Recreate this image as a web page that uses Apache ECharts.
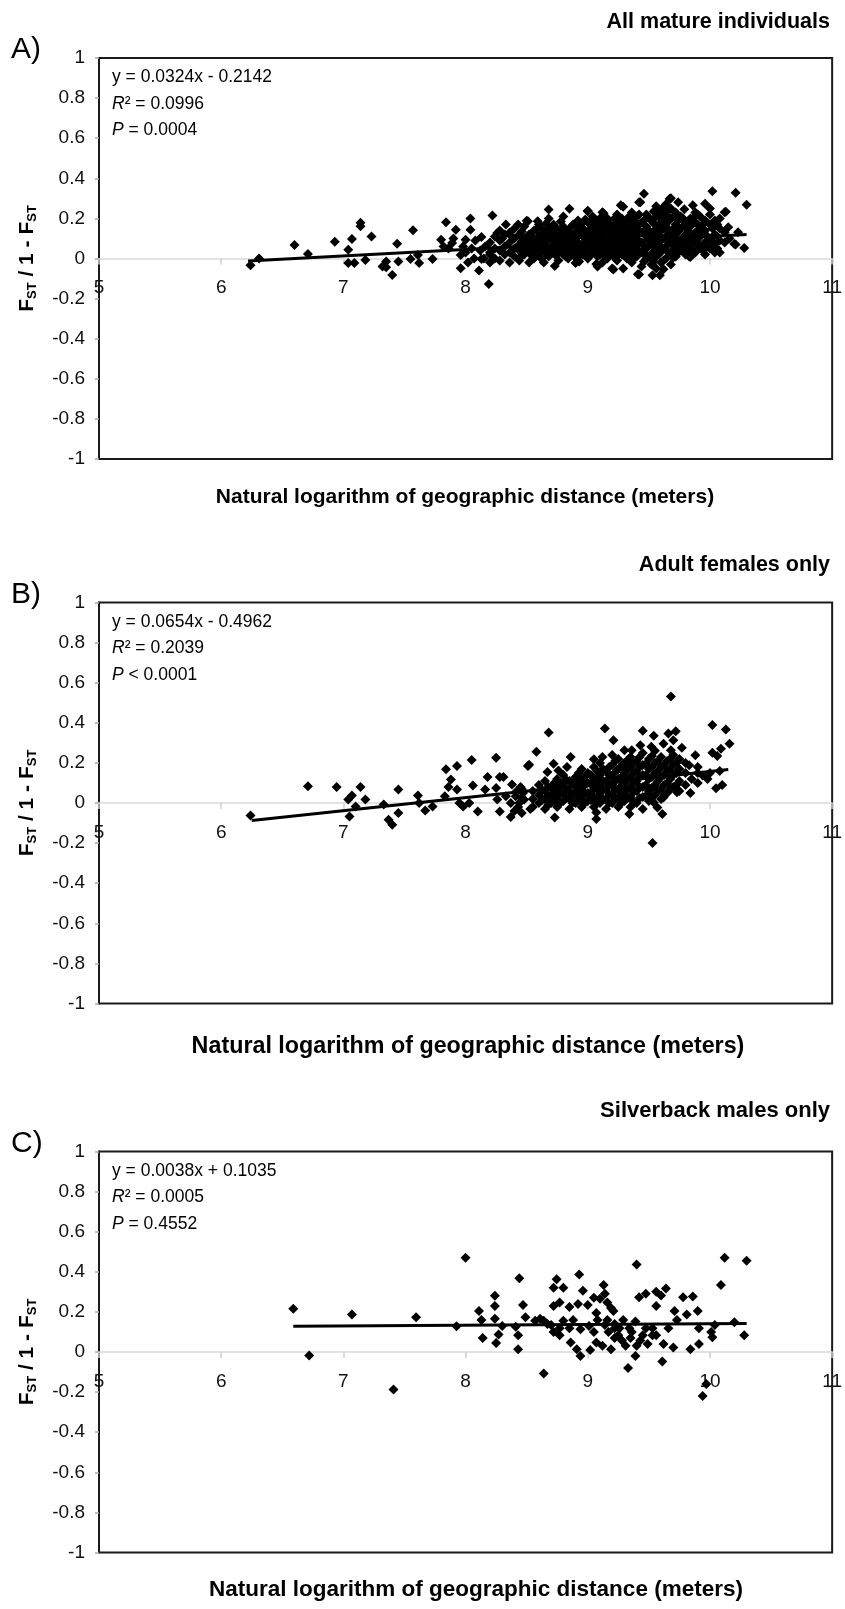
<!DOCTYPE html>
<html><head><meta charset="utf-8">
<script src="https://cdn.jsdelivr.net/npm/echarts@6.0.0/dist/echarts.min.js"></script>
<style>html,body{margin:0;padding:0;background:#fff}#chart{width:845px;height:1609px}</style>
</head><body><div id="chart"></div>
<script>
// ---------------- data ----------------
const panelLetters = ['A)', 'B)', 'C)'];
const panelTitles = ['All mature individuals', 'Adult females only', 'Silverback males only'];
const equationTexts = ['y = 0.0324x - 0.2142', 'y = 0.0654x - 0.4962', 'y = 0.0038x + 0.1035'];
const r2Texts = ['0.0996', '0.2039', '0.0005'];
const pTexts = ['= 0.0004', '< 0.0001', '= 0.4552'];
const trendSlopes = [0.0324, 0.0654, 0.0038];
const trendIntercepts = [-0.2142, -0.4962, 0.1035];
const trendXStart = [6.22, 6.25, 6.59];
const trendXEnd = [10.3, 10.15, 10.3];
const xAxisTitle = 'Natural logarithm of geographic distance (meters)';
const xTickMin = 5, xTickMax = 11, xTickStep = 1;
const yTickMin = -1, yTickMax = 1, yTickStep = 0.2;

const pointsA = [
[6.24,-0.034],[6.31,0.0],[6.60,0.067],[6.71,0.023],[6.93,0.084],[7.04,0.044],[7.04,-0.023],[7.09,-0.023],
[7.07,0.097],[7.14,0.178],[7.14,0.161],[7.18,-0.007],[7.23,0.11],[7.32,-0.04],[7.35,-0.015],[7.40,-0.082],
[7.35,-0.044],[7.44,0.074],[7.45,-0.015],[7.57,0.141],[7.55,-0.003],[7.61,0.018],[7.62,-0.023],[7.73,-0.003],
[7.80,0.094],[7.84,0.181],[7.89,0.077],[7.92,0.144],[7.96,0.018],[7.96,-0.049],[8.00,0.094],[8.04,0.2],
[8.04,0.144],[8.11,-0.06],[8.13,-0.003],[8.13,0.107],[8.19,-0.127],[8.22,0.214],[8.26,0.127],[8.33,0.169],
[8.37,0.114],[8.43,0.169],[8.51,0.186],[8.59,0.186],[8.68,0.245],[8.73,-0.037],[8.85,0.248],[8.93,-0.015],
[9.0,0.236],[8.90,-0.023],[7.82,0.06],[7.86,0.05],[7.9,0.1],[7.98,0.06],[8.0,0.03],[8.05,0.05],[8.08,0.09],
[8.12,0.04],[8.16,0.06],[8.2,0.02],[8.15,0.0],[8.07,0.0],[8.02,-0.02],[8.3,0.1],
[9.12,0.231],[9.27,0.265],[9.42,0.281],[9.46,0.323],[9.55,0.24],[9.67,0.298],[9.86,0.265],[9.96,0.273],
[10.02,0.335],[10.12,0.231],[10.21,0.328],[10.30,0.268],[10.20,0.072],[10.28,0.052],[10.04,0.03],[9.83,0.01],
[9.41,-0.079],[9.53,-0.084],[9.59,-0.084],[9.62,-0.054],[9.20,-0.05],[9.29,-0.05],[9.07,-0.028],[10.23,0.131],
[10.15,0.156],[9.68,0.30],[9.74,0.28],[10.13,0.233],[10.21,0.07],[9.84,0.008],[9.42,-0.08],[9.21,-0.055],
[9.08,-0.04],[9.0,0.238],[9.43,0.28],[9.29,0.258],[9.13,0.226],[8.50,0.188],[9.79,0.246],[9.9,0.22],[9.96,0.188],
[8.20,-0.02],[8.20,0.03],[8.20,0.08],[8.24,0.0],[8.24,0.05],[8.24,0.11],[8.28,-0.01],[8.28,0.04],[8.28,0.09],[8.28,0.14],
[8.32,0.02],[8.32,0.06],[8.32,0.12],[8.36,-0.02],[8.36,0.03],[8.36,0.08],[8.36,0.13],[8.40,0.01],[8.40,0.05],[8.40,0.10],
[8.40,0.15],[8.44,-0.01],[8.44,0.04],[8.44,0.07],[8.44,0.12],[8.48,0.02],[8.48,0.06],[8.48,0.10],[8.48,0.16],
[8.52,-0.02],[8.52,0.03],[8.52,0.08],[8.52,0.12],[8.56,0.0],[8.56,0.05],[8.56,0.09],[8.56,0.14],[8.60,0.02],
[8.60,0.06],[8.60,0.11],[8.60,0.17],[8.64,-0.02],[8.64,0.04],[8.64,0.08],[8.64,0.13],[8.68,0.01],[8.68,0.05],
[8.68,0.10],[8.68,0.15],[8.68,0.2],[8.72,0.03],[8.72,0.07],[8.72,0.12],[8.72,0.17],[8.76,-0.01],[8.76,0.04],
[8.76,0.09],[8.76,0.14],[8.80,0.02],[8.80,0.06],[8.80,0.11],[8.80,0.16],[8.80,0.21],[8.84,0.0],[8.84,0.05],
[8.84,0.09],[8.84,0.13],[8.88,0.03],[8.88,0.07],[8.88,0.12],[8.88,0.17],[8.92,-0.01],[8.92,0.04],[8.92,0.08],
[8.92,0.14],[8.92,0.19],[8.96,0.02],[8.96,0.06],[8.96,0.11],[8.96,0.15],[9.00,0.0],[9.00,0.05],[9.00,0.09],
[9.00,0.13],[9.00,0.18],[9.04,0.03],[9.04,0.07],[9.04,0.12],[9.04,0.16],[9.04,0.21],[9.08,0.01],[9.08,0.05],
[9.08,0.10],[9.08,0.14],[9.08,0.19],[9.12,-0.02],[9.12,0.03],[9.12,0.08],[9.12,0.12],[9.12,0.17],[9.16,0.0],
[9.16,0.05],[9.16,0.09],[9.16,0.15],[9.16,0.2],[9.20,0.02],[9.20,0.07],[9.20,0.11],[9.20,0.16],[9.24,-0.01],
[9.24,0.04],[9.24,0.09],[9.24,0.13],[9.24,0.18],[9.24,0.22],[9.28,0.02],[9.28,0.06],[9.28,0.11],[9.28,0.15],
[9.28,0.2],[9.32,0.0],[9.32,0.05],[9.32,0.09],[9.32,0.14],[9.32,0.19],[9.36,-0.02],[9.36,0.03],[9.36,0.08],
[9.36,0.12],[9.36,0.17],[9.36,0.23],[9.40,0.01],[9.40,0.06],[9.40,0.10],[9.40,0.15],[9.40,0.21],[9.44,-0.04],
[9.44,0.03],[9.44,0.08],[9.44,0.13],[9.44,0.18],[9.48,0.0],[9.48,0.05],[9.48,0.11],[9.48,0.16],[9.48,0.22],
[9.52,-0.03],[9.52,0.02],[9.52,0.07],[9.52,0.12],[9.52,0.19],[9.56,-0.05],[9.56,0.01],[9.56,0.06],[9.56,0.10],
[9.56,0.15],[9.56,0.21],[9.56,0.26],[9.60,-0.02],[9.60,0.04],[9.60,0.09],[9.60,0.14],[9.60,0.18],[9.60,0.24],
[9.64,0.0],[9.64,0.06],[9.64,0.11],[9.64,0.16],[9.64,0.22],[9.64,0.27],[9.68,-0.03],[9.68,0.03],[9.68,0.08],
[9.68,0.13],[9.68,0.20],[9.68,0.25],[9.72,0.01],[9.72,0.06],[9.72,0.12],[9.72,0.17],[9.72,0.23],[9.76,0.04],
[9.76,0.09],[9.76,0.15],[9.76,0.21],[9.80,0.02],[9.80,0.07],[9.80,0.12],[9.80,0.18],[9.84,0.05],[9.84,0.10],
[9.84,0.16],[9.84,0.2],[9.88,0.03],[9.88,0.08],[9.88,0.13],[9.88,0.18],[9.88,0.23],[9.92,0.06],[9.92,0.11],
[9.92,0.15],[9.92,0.21],[9.96,0.02],[9.96,0.08],[9.96,0.14],[9.96,0.19],[10.00,0.05],[10.00,0.10],[10.00,0.17],
[10.00,0.22],[10.00,0.25],[10.04,0.07],[10.04,0.12],[10.04,0.19],[10.08,0.03],[10.08,0.09],[10.08,0.15],
[10.08,0.2],[10.12,0.08],[10.12,0.13],[10.16,0.1]
];
const pointsACore = [
[8.46,0.015],[8.46,0.085],[8.46,0.135],[8.50,0.045],[8.50,0.105],[8.54,0.015],[8.54,0.065],[8.54,0.115],
[8.58,0.035],[8.58,0.085],[8.58,0.145],[8.62,0.0],[8.62,0.045],[8.62,0.095],[8.62,0.15],[8.66,0.025],
[8.66,0.065],[8.66,0.115],[8.66,0.175],[8.70,0.045],[8.70,0.095],[8.70,0.135],[8.74,0.015],[8.74,0.055],
[8.74,0.105],[8.74,0.155],[8.78,0.035],[8.78,0.075],[8.78,0.125],[8.78,0.185],[8.82,0.01],[8.82,0.045],
[8.82,0.095],[8.82,0.145],[8.86,0.025],[8.86,0.065],[8.86,0.11],[8.86,0.155],[8.90,0.005],[8.90,0.055],
[8.90,0.1],[8.90,0.165],[8.94,0.02],[8.94,0.065],[8.94,0.125],[8.94,0.17],[8.98,0.04],[8.98,0.085],
[8.98,0.135],[8.98,0.195],[9.02,0.015],[9.02,0.055],[9.02,0.105],[9.02,0.145],[9.02,0.185],[9.06,0.045],
[9.06,0.085],[9.06,0.135],[9.06,0.175],[9.10,0.02],[9.10,0.065],[9.10,0.115],[9.10,0.165],[9.10,0.2],
[9.14,0.01],[9.14,0.055],[9.14,0.1],[9.14,0.145],[9.14,0.185],[9.18,0.025],[9.18,0.075],[9.18,0.125],
[9.18,0.175],[9.22,0.005],[9.22,0.05],[9.22,0.095],[9.22,0.145],[9.22,0.2],[9.26,0.025],[9.26,0.07],
[9.26,0.12],[9.26,0.165],[9.30,0.035],[9.30,0.085],[9.30,0.125],[9.30,0.175],[9.34,0.02],[9.34,0.065],
[9.34,0.11],[9.34,0.16],[9.34,0.21],[9.38,0.005],[9.38,0.05],[9.38,0.1],[9.38,0.14],[9.38,0.19],
[9.42,0.035],[9.42,0.08],[9.42,0.125],[9.42,0.17],[9.42,0.22],[9.46,-0.015],[9.46,0.025],[9.46,0.065],
[9.46,0.135],[9.46,0.19],[9.50,0.01],[9.50,0.09],[9.50,0.14],[9.50,0.205],[9.54,-0.015],[9.54,0.035],
[9.54,0.08],[9.54,0.125],[9.54,0.175],[9.54,0.235],[9.58,0.02],[9.58,0.07],[9.58,0.115],[9.58,0.16],
[9.58,0.21],[9.62,-0.01],[9.62,0.045],[9.62,0.1],[9.62,0.15],[9.62,0.2],[9.62,0.255],[9.66,0.03],
[9.66,0.085],[9.66,0.135],[9.66,0.185],[9.66,0.24],[9.70,0.005],[9.70,0.045],[9.70,0.1],[9.70,0.15],
[9.70,0.21],[9.74,0.03],[9.74,0.08],[9.74,0.135],[9.74,0.19],[9.78,0.055],[9.78,0.105],[9.78,0.16],
[9.78,0.2],[9.82,0.04],[9.82,0.09],[9.82,0.14],[9.82,0.185],[9.86,0.07],[9.86,0.115],[9.86,0.2],
[9.90,0.045],[9.90,0.095],[9.90,0.17],[9.94,0.04],[9.94,0.125],[9.94,0.17],[9.98,0.06],[9.98,0.11],
[10.02,0.085],[10.02,0.15],[10.06,0.05],[10.06,0.11],[10.06,0.17]
];

const pointsB = [
[6.24,-0.062],[6.71,0.084],[6.945,0.08],[7.14,0.08],[7.07,0.037],[7.04,0.017],[7.18,0.017],[7.10,-0.017],
[7.05,-0.067],[7.33,-0.008],[7.45,0.067],[7.45,-0.05],[7.37,-0.084],[7.40,-0.109],[7.61,0.037],[7.62,0.0],
[7.67,-0.037],[7.73,-0.017],[7.84,0.168],[7.93,0.184],[7.88,0.117],[7.86,0.08],[7.93,0.067],[7.83,0.034],
[7.95,0.0],[7.98,-0.017],[8.05,0.214],[8.06,0.087],[8.03,0.0],[8.10,-0.042],[8.18,0.13],[8.16,0.067],
[8.25,0.226],[8.28,0.13],[8.31,0.13],[8.25,0.075],[8.26,0.017],[8.28,-0.042],[8.37,-0.07],[8.38,0.092],
[8.33,0.034],[8.37,0.0],[8.41,0.034],[8.44,0.0],[8.47,0.05],[8.51,0.184],[8.48,0.017],[8.40,-0.04],
[8.43,-0.02],[8.46,-0.05],[8.42,0.06],[8.45,0.08],
[9.68,0.531],[8.68,0.352],[9.14,0.372],[9.21,0.313],[9.45,0.36],[9.54,0.335],[9.66,0.347],[9.72,0.358],
[10.02,0.389],[10.13,0.367],[10.16,0.296],[10.09,0.271],[10.02,0.251],[10.06,0.235],[8.58,0.255],[8.52,0.191],
[8.72,0.196],[8.86,0.229],[8.67,0.154],[8.76,0.162],[8.83,0.179],[9.05,0.218],[9.12,0.229],[9.30,0.263],
[9.36,0.263],[9.43,0.288],[9.52,0.28],[9.62,0.296],[9.70,0.313],[9.77,0.275],[9.68,0.263],[9.88,0.238],
[9.83,0.188],[9.90,0.179],[9.94,0.137],[10.05,0.074],[10.10,0.09],[9.84,0.05],[9.73,0.054],[9.62,0.028],
[9.61,-0.055],[9.53,-0.2],[9.57,-0.022],[9.54,0.003],[9.34,-0.055],[9.07,-0.08],[9.07,-0.047],[8.73,-0.072],
[8.53,-0.03],[8.46,0.028],[8.46,0.07],[10.0,0.15],[10.08,0.16],[9.98,0.12],
[8.55,-0.02],[8.55,0.02],[8.55,0.06],[8.60,0.0],[8.60,0.04],[8.60,0.09],[8.65,-0.03],[8.65,0.02],[8.65,0.06],
[8.65,0.11],[8.70,0.0],[8.70,0.04],[8.70,0.08],[8.75,-0.02],[8.75,0.03],[8.75,0.07],[8.75,0.12],[8.80,0.01],
[8.80,0.05],[8.80,0.09],[8.80,0.14],[8.85,-0.03],[8.85,0.02],[8.85,0.06],[8.85,0.11],[8.90,0.0],[8.90,0.04],
[8.90,0.08],[8.90,0.13],[8.95,-0.02],[8.95,0.03],[8.95,0.07],[8.95,0.12],[8.95,0.17],[9.00,0.01],[9.00,0.05],
[9.00,0.10],[9.00,0.15],[9.05,-0.02],[9.05,0.03],[9.05,0.07],[9.05,0.12],[9.05,0.18],[9.10,0.0],[9.10,0.05],
[9.10,0.09],[9.10,0.14],[9.10,0.2],[9.15,-0.03],[9.15,0.02],[9.15,0.07],[9.15,0.11],[9.15,0.16],[9.20,0.0],
[9.20,0.04],[9.20,0.09],[9.20,0.13],[9.20,0.19],[9.20,0.24],[9.25,-0.02],[9.25,0.03],[9.25,0.07],[9.25,0.12],
[9.25,0.17],[9.25,0.22],[9.30,0.01],[9.30,0.05],[9.30,0.10],[9.30,0.15],[9.30,0.2],[9.35,-0.02],[9.35,0.03],
[9.35,0.08],[9.35,0.13],[9.35,0.18],[9.35,0.23],[9.40,0.0],[9.40,0.06],[9.40,0.11],[9.40,0.16],[9.40,0.21],
[9.45,-0.03],[9.45,0.03],[9.45,0.08],[9.45,0.14],[9.45,0.19],[9.45,0.25],[9.50,0.01],[9.50,0.06],[9.50,0.12],
[9.50,0.17],[9.50,0.22],[9.55,0.04],[9.55,0.09],[9.55,0.15],[9.55,0.2],[9.55,0.26],[9.60,0.02],[9.60,0.07],
[9.60,0.13],[9.60,0.18],[9.60,0.23],[9.65,0.05],[9.65,0.1],[9.65,0.16],[9.65,0.21],[9.70,0.08],[9.70,0.14],
[9.70,0.19],[9.70,0.24],[9.75,0.06],[9.75,0.11],[9.75,0.17],[9.75,0.22],[9.80,0.09],[9.80,0.15],[9.80,0.2],
[9.85,0.12],[9.9,0.1],[9.9,0.15]
];
const pointsBCore = [
[8.625,0.015],[8.625,0.065],[8.675,-0.01],[8.675,0.035],[8.675,0.08],[8.725,0.015],[8.725,0.055],[8.725,0.1],
[8.775,0.0],[8.775,0.05],[8.775,0.1],[8.825,0.025],[8.825,0.07],[8.825,0.115],[8.875,0.0],[8.875,0.045],
[8.875,0.1],[8.925,0.015],[8.925,0.06],[8.925,0.105],[8.925,0.15],[8.975,0.0],[8.975,0.045],[8.975,0.09],
[8.975,0.13],[9.025,0.015],[9.025,0.05],[9.025,0.095],[9.025,0.14],[9.075,0.0],[9.075,0.03],[9.075,0.075],
[9.075,0.12],[9.075,0.16],[9.125,0.02],[9.125,0.065],[9.125,0.11],[9.125,0.17],[9.175,0.0],[9.175,0.045],
[9.175,0.09],[9.175,0.14],[9.175,0.18],[9.225,0.02],[9.225,0.065],[9.225,0.11],[9.225,0.155],[9.225,0.21],
[9.275,0.0],[9.275,0.04],[9.275,0.085],[9.275,0.13],[9.275,0.185],[9.325,0.025],[9.325,0.07],[9.325,0.12],
[9.325,0.17],[9.325,0.215],[9.375,0.005],[9.375,0.055],[9.375,0.1],[9.375,0.15],[9.375,0.2],[9.425,0.025],
[9.425,0.08],[9.425,0.13],[9.425,0.18],[9.425,0.23],[9.475,0.035],[9.475,0.09],[9.475,0.14],[9.475,0.195],
[9.525,0.03],[9.525,0.075],[9.525,0.13],[9.525,0.18],[9.525,0.235],[9.575,0.06],[9.575,0.11],[9.575,0.16],
[9.575,0.21],[9.625,0.04],[9.625,0.09],[9.625,0.14],[9.625,0.19],[9.675,0.07],[9.675,0.12],[9.675,0.17],
[9.675,0.22],[9.725,0.09],[9.725,0.15],[9.725,0.2]
];

const pointsC = [
[6.59,0.216],[6.72,-0.017],[7.07,0.187],[7.41,-0.187],[7.595,0.173],[7.926,0.128],[8.0,0.47],[8.11,0.204],
[8.13,0.16],[8.14,0.07],[8.24,0.28],[8.24,0.23],[8.24,0.166],[8.30,0.13],[8.27,0.087],[8.25,0.045],[8.41,0.126],
[8.43,0.083],[8.43,0.014],[8.44,0.368],[8.47,0.235],[8.49,0.173],[8.57,0.156],[8.61,0.166],[8.64,0.156],
[8.64,-0.107],[8.72,0.32],[8.745,0.363],[8.80,0.32],[8.72,0.23],[8.77,0.247],[8.70,0.135],[8.72,0.1],
[8.77,0.083],[8.80,0.156],[8.85,0.225],[8.92,0.24],[8.93,0.386],[8.96,0.305],[8.85,0.118],[8.86,0.048],
[8.91,0.014],[8.94,-0.02],[8.94,0.114],[9.0,0.235],[9.02,0.01],[9.05,0.27],[9.07,0.195],[9.10,0.265],
[9.13,0.334],[9.14,0.29],[9.16,0.247],[9.19,0.22],[9.21,0.204],[9.08,0.16],[9.05,0.1],[9.07,0.048],
[9.12,0.031],[9.19,0.014],[9.14,0.135],[9.17,0.1],[9.22,0.118],[9.25,0.083],[9.28,0.057],[9.31,0.031],
[9.29,0.16],[9.34,0.118],[9.33,-0.08],[9.36,0.1],[9.39,0.152],[9.40,0.437],[9.42,0.273],[9.475,0.29],
[9.40,0.031],[9.39,-0.02],[9.43,0.057],[9.475,0.118],[9.53,0.118],[9.56,0.23],[9.56,0.3],[9.60,0.282],
[9.64,0.317],[9.56,0.083],[9.62,0.04],[9.61,-0.047],[9.66,0.118],[9.70,0.022],[9.71,0.204],[9.73,0.16],
[9.78,0.273],[9.81,0.187],[9.84,0.014],[9.86,0.277],[9.90,0.204],[9.91,0.118],[9.91,0.04],[9.94,-0.22],
[9.97,-0.16],[10.01,0.1],[10.02,0.074],[10.04,0.135],[10.09,0.334],[10.12,0.47],[10.20,0.149],[10.28,0.083],
[10.30,0.455],[9.16,0.16],[9.22,0.14],[9.01,0.13],[8.88,0.16],[8.77,0.118],[8.67,0.14],[9.53,0.083],
[9.45,0.083],[9.49,0.04],[9.26,0.118],[9.22,0.07],[9.35,0.07]
];
const panelPoints = [pointsA.concat(pointsACore), pointsB.concat(pointsBCore), pointsC];

// ---------------- layout ----------------
const FONT = '"Liberation Sans", Arial, sans-serif';
const gridLeft = 99, gridWidth = 734, gridHeight = 401;
const gridTops = [58, 602.5, 1151.5];
const titleOffsets = [36, 37.5, 41];
const titleSizes = [21.5, 21.5, 22];
const xTitleOffsets = [38, 43, 37];
const xTitleSizes = [21, 23.3, 22.5];
const xTitleCenters = [465, 468, 476];

const grids = [], xAxes = [], yAxes = [], series = [], graphics = [];
for (let i = 0; i < 3; i++) {
  const top = gridTops[i];
  grids.push({left: gridLeft, top: top, width: gridWidth, height: gridHeight,
    show: true, borderColor: '#1a1a1a', borderWidth: 2, backgroundColor: 'transparent'});
  xAxes.push({type: 'value', gridIndex: i, position: 'bottom', offset: -gridHeight / 2,
    min: xTickMin, max: xTickMax, interval: xTickStep,
    axisLine: {show: true, onZero: false, lineStyle: {color: '#d9d9d9', width: 1.5}},
    axisTick: {show: true, inside: false, length: 6, lineStyle: {color: '#cfcfcf', width: 1.5}},
    axisLabel: {margin: 20, color: '#111', fontSize: 19, fontFamily: FONT, showMinLabel: true, showMaxLabel: true},
    splitLine: {show: false}, z: 1});
  yAxes.push({type: 'value', gridIndex: i, min: yTickMin, max: yTickMax, interval: yTickStep,
    axisLine: {show: true, onZero: false, lineStyle: {color: '#1a1a1a', width: 2}},
    axisTick: {show: true, length: 4, lineStyle: {color: '#aaaaaa', width: 1.5}},
    axisLabel: {margin: 14, color: '#111', fontSize: 19, fontFamily: FONT},
    splitLine: {show: false}});
  series.push({type: 'scatter', xAxisIndex: i, yAxisIndex: i, data: panelPoints[i],
    symbol: 'diamond', symbolSize: 10, itemStyle: {color: '#000', opacity: 1}, silent: true, z: 2});
  const x0 = trendXStart[i], x1 = trendXEnd[i];
  series.push({type: 'line', xAxisIndex: i, yAxisIndex: i, showSymbol: false, symbol: 'none',
    data: [[x0, trendSlopes[i] * x0 + trendIntercepts[i]], [x1, trendSlopes[i] * x1 + trendIntercepts[i]]],
    lineStyle: {color: '#000', width: 3}, silent: true, z: 3});

  graphics.push({type: 'text', style: {x: 830, y: top - titleOffsets[i], text: panelTitles[i],
    font: 'bold ' + titleSizes[i] + 'px ' + FONT, fill: '#000', align: 'right', verticalAlign: 'middle'}});
  graphics.push({type: 'text', style: {x: 11, y: top - 8, text: panelLetters[i],
    font: '30px ' + FONT, fill: '#000', align: 'left', verticalAlign: 'middle'}});
  graphics.push({type: 'text', style: {x: 112, y: top + 6,
    text: equationTexts[i] + '\n{i|R}\u00b2 = ' + r2Texts[i] + '\n{i|P} ' + pTexts[i],
    font: '17.5px ' + FONT, fill: '#000', lineHeight: 26.5, align: 'left', verticalAlign: 'top',
    rich: {i: {fontStyle: 'italic', fontSize: 17.5, fontFamily: FONT, lineHeight: 26.5, fill: '#000'}}}});
  graphics.push({type: 'text', style: {x: xTitleCenters[i], y: top + gridHeight + xTitleOffsets[i], text: xAxisTitle,
    font: 'bold ' + xTitleSizes[i] + 'px ' + FONT, fill: '#000', align: 'center', verticalAlign: 'middle'}});
  graphics.push({type: 'text', x: 27, y: top + gridHeight / 2, rotation: Math.PI / 2,
    style: {x: 0, y: 0, text: '{b|F}{s|ST}{b| / 1 - F}{s|ST}', align: 'center', verticalAlign: 'middle',
      rich: {b: {fontSize: 21, fontWeight: 'bold', fontFamily: FONT, lineHeight: 24, fill: '#000'},
             s: {fontSize: 13, fontWeight: 'bold', fontFamily: FONT, lineHeight: 14, verticalAlign: 'bottom', fill: '#000'}}}});
}

const chart = echarts.init(document.getElementById('chart'), null, {renderer: 'canvas'});
chart.setOption({
  animation: false,
  backgroundColor: '#fff',
  textStyle: {fontFamily: FONT},
  grid: grids, xAxis: xAxes, yAxis: yAxes, series: series, graphic: graphics
});
</script></body></html>
